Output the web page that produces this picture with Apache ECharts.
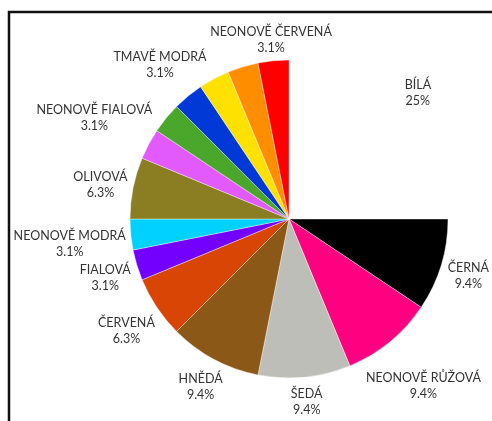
<!DOCTYPE html>
<html>
<head>
<meta charset="utf-8">
<script src="https://cdn.jsdelivr.net/npm/echarts@6/dist/echarts.min.js"></script>
<style>
	html, body {margin: 0; padding: 0; background: #fff;}
	#chart {width: 492px; height: 421px;}
</style>
</head>
<body>
<div id="chart"></div>
<script>
// slices clockwise from 12 o'clock
const names = ['BÍLÁ', 'ČERNÁ', 'NEONOVĚ RŮŽOVÁ', 'ŠEDÁ', 'HNĚDÁ', 'ČERVENÁ', 'FIALOVÁ', 'NEONOVĚ MODRÁ',
	'OLIVOVÁ', 'NEONOVĚ FIALOVÁ', 'ZELENÁ', 'TMAVĚ MODRÁ', 'ŽLUTÁ', 'ORANŽOVÁ', 'NEONOVĚ ČERVENÁ'];
const values = [25, 9.375, 9.375, 9.375, 9.375, 6.25, 3.125, 3.125, 6.25, 3.125, 3.125, 3.125, 3.125, 3.125, 3.125];
const colors = ['#ffffff', '#000000', '#ff0080', '#bebeb8', '#8b5817', '#d94504', '#7300ff', '#00d1ff',
	'#8a7d22', '#e25afc', '#4ba72b', '#0039d6', '#ffe100', '#ff8d00', '#ff0000'];
const percentLabels = ['25%', '9.4%', '9.4%', '9.4%', '9.4%', '6.3%', '3.1%', '3.1%', '6.3%', '3.1%', '', '3.1%', '', '', '3.1%'];

const cx = 289;
const cy = 219;
const radius = 159;
const fontSize = 12.5;
const total = values.reduce((a, b) => a + b, 0);

const ctx = document.createElement('canvas').getContext('2d');
ctx.font = fontSize + 'px Lato';

function midAngle(i) {
	let acc = 0;
	for (let k = 0; k < i; k++) acc += values[k];
	acc += values[i] / 2;
	// clockwise from 12 o'clock, screen coords
	return -Math.PI / 2 + acc / total * Math.PI * 2;
}

function labelWidth(i) {
	return Math.max(ctx.measureText(names[i]).width, ctx.measureText(percentLabels[i]).width);
}

const chart = echarts.init(document.getElementById('chart'));
chart.setOption({
	animation: false,
	graphic: [
		{
			type: 'polyline',
			shape: {points: [[9, 421], [9, 12], [492, 12]]},
			style: {stroke: '#111', lineWidth: 2.5, fill: null},
		},
	],
	series: [
		{
			type: 'pie',
			center: [cx, cy],
			radius: [0, radius],
			startAngle: 90,
			clockwise: true,
			itemStyle: {borderColor: '#fff', borderWidth: 0.4},
			label: {
				show: true,
				position: 'outside',
				alignTo: 'none',
				overflow: 'none',
				fontFamily: 'Lato',
				fontSize: fontSize,
				color: '#333',
				lineHeight: 16,
				align: 'center',
				formatter: p => p.name + '\n' + percentLabels[p.dataIndex],
			},
			labelLine: {show: false, length: 0, length2: 0},
			labelLayout: p => {
				const a = midAngle(p.dataIndex);
				const w = labelWidth(p.dataIndex);
				const h = 32;
				const c = Math.cos(a);
				const s = Math.sin(a);
				const gap = s < 0 ? 4 + 2 * s : 4;
				const d = radius + gap + w / 2 * Math.abs(c) + h / 2 * Math.abs(s);
				return {x: cx + d * c, y: cy + d * s + 3, align: 'center', verticalAlign: 'middle'};
			},
			emphasis: {disabled: true},
			data: names.map((n, i) => ({
				name: n,
				value: values[i],
				itemStyle: {color: colors[i]},
				label: {show: percentLabels[i] !== ''},
			})),
		},
	],
});
</script>
</body>
</html>
